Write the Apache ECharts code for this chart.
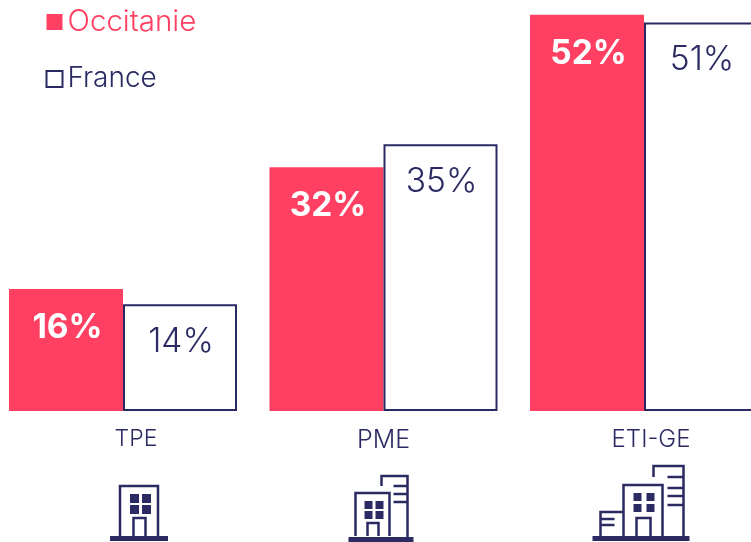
<!DOCTYPE html>
<html lang="fr">
<head>
    <meta charset="UTF-8">
    <title>Occitanie / France</title>
    <style>
        html,body{margin:0;padding:0;background:#fff;}
        #main{width:751px;height:542px;}
    </style>
    <script src="https://cdn.jsdelivr.net/npm/echarts@6/dist/echarts.min.js"></script>
</head>
<body>
    <div id="main"></div>
<script>
    var categories = ['TPE', 'PME', 'ETI-GE'];
    var occitanie = [16, 32, 52];
    var france = [14, 35, 51];

    var RED = '#FF4062';
    var NAVY = '#2B2A63';
    var FONT = 'Inter, sans-serif';

    // pictos dessines autour du pied de chaque categorie (dx/dy par rapport a l'axe)
    function line(x1, y1, x2, y2) {
        return {type: 'line', shape: {x1: x1, y1: y1, x2: x2, y2: y2}, style: {stroke: NAVY, lineWidth: 2.5, fill: null}};
    }
    function box(x, y, w, h) {
        return {type: 'rect', shape: {x: x, y: y, width: w, height: h}, style: {fill: NAVY}};
    }
    function poly(points) {
        return {type: 'polyline', shape: {points: points}, style: {stroke: NAVY, lineWidth: 2.5, fill: null}};
    }
    function building(x, top, w, wins, door) {
        var out = [poly([[x, 125], [x, top], [x + w, top], [x + w, 125]])];
        wins.forEach(function (c) { out.push(box(c[0], c[1], c[2], c[2])); });
        out.push(poly([[door[0], 125], [door[0], door[1]], [door[2], door[1]], [door[2], 125]]));
        return out;
    }
    var icons = [
        [box(-13.5, 125, 58, 5)].concat(
            building(-3.5, 75, 38, [[6.5, 83, 9], [18.5, 83, 9], [6.5, 94, 9], [18.5, 94, 9]], [10, 107, 22])
        ),
        [box(-35.5, 126, 65, 5)].concat(
            building(-28.5, 82, 34, [[-19.5, 90, 8], [-8.5, 90, 8], [-19.5, 100, 8], [-8.5, 100, 8]], [-16.5, 112, -5.5]),
            [poly([[-2.5, 75], [-2.5, 65], [23.5, 65], [23.5, 126]]),
             line(9.5, 75, 23.5, 75), line(9.5, 83, 23.5, 83), line(9.5, 91, 23.5, 91)]
        ),
        [box(-52, 125, 97, 5)].concat(
            building(-21, 74, 39, [[-11, 82, 8], [2, 82, 8], [-11, 93, 8], [2, 93, 8]], [-8, 107, 6]),
            [poly([[9, 66], [9, 55], [39, 55], [39, 125]]),
             line(23, 66, 39, 66), line(23, 77, 39, 77), line(23, 85, 39, 85), line(23, 94, 39, 94),
             poly([[-44, 125], [-44, 101], [-21, 101]]),
             line(-44, 108, -30, 108), line(-44, 114, -30, 114)]
        )
    ];

    var myChart = echarts.init(document.getElementById('main'));

    var option = {
        animation: false,
        backgroundColor: '#fff',
        textStyle: {fontFamily: FONT},
        legend: {
            left: 45.5,
            top: 7,
            padding: 0,
            orient: 'vertical',
            itemWidth: 16,
            itemHeight: 16,
            itemGap: 27,
            selectedMode: false,
            textStyle: {fontFamily: FONT, fontSize: 28, fontWeight: 300, lineHeight: 30},
            data: [
                {name: 'Occitanie', icon: 'rect', textStyle: {color: RED, fontSize: 29.5}},
                {name: 'France', icon: 'rect', textStyle: {color: NAVY}}
            ]
        },
        grid: {left: -7.25, top: -46.2, width: 781.5, height: 457.2, containLabel: false, outerBoundsMode: 'none'},
        xAxis: {
            type: 'category',
            data: categories,
            axisLine: {show: false},
            axisTick: {show: false},
            axisLabel: {
                margin: 17,
                interval: 0,
                formatter: function (v, i) { return '{c' + i + '|' + v + '}'; },
                rich: {
                    c0: {fontFamily: FONT, fontSize: 23, fontWeight: 300, color: NAVY, padding: [0, 0, 0, 26]},
                    c1: {fontFamily: FONT, fontSize: 25, fontWeight: 300, color: NAVY},
                    c2: {fontFamily: FONT, fontSize: 24, fontWeight: 300, color: NAVY, padding: [0, 0, 0, 14]}
                }
            }
        },
        yAxis: {type: 'value', min: 0, max: 60, show: false},
        series: [
            {
                name: 'Occitanie',
                type: 'bar',
                data: occitanie,
                barWidth: 114,
                barGap: 0,
                itemStyle: {color: RED},
                label: {
                    show: true,
                    position: 'insideTop',
                    distance: 22,
                    offset: [1.5, 0],
                    formatter: '{c}%',
                    color: '#fff',
                    fontFamily: FONT,
                    fontWeight: 'bold',
                    fontSize: 33.5
                }
            },
            {
                name: 'France',
                type: 'bar',
                data: france,
                barWidth: 114,
                barGap: 0,
                itemStyle: {color: '#fff', borderColor: NAVY, borderWidth: 2},
                label: {
                    show: true,
                    position: 'insideTop',
                    distance: 21,
                    offset: [1, 0],
                    formatter: '{c}%',
                    color: NAVY,
                    fontFamily: FONT,
                    fontWeight: 300,
                    fontSize: 33.5
                }
            },
            {
                name: 'pictos',
                type: 'custom',
                clip: false,
                silent: true,
                data: [0, 1, 2],
                renderItem: function (params, api) {
                    var p = api.coord([api.value(0), 0]);
                    return {type: 'group', x: p[0] + 0.5, y: p[1], children: icons[params.dataIndex]};
                }
            }
        ]
    };

    myChart.setOption(option);
</script>
</body>
</html>
